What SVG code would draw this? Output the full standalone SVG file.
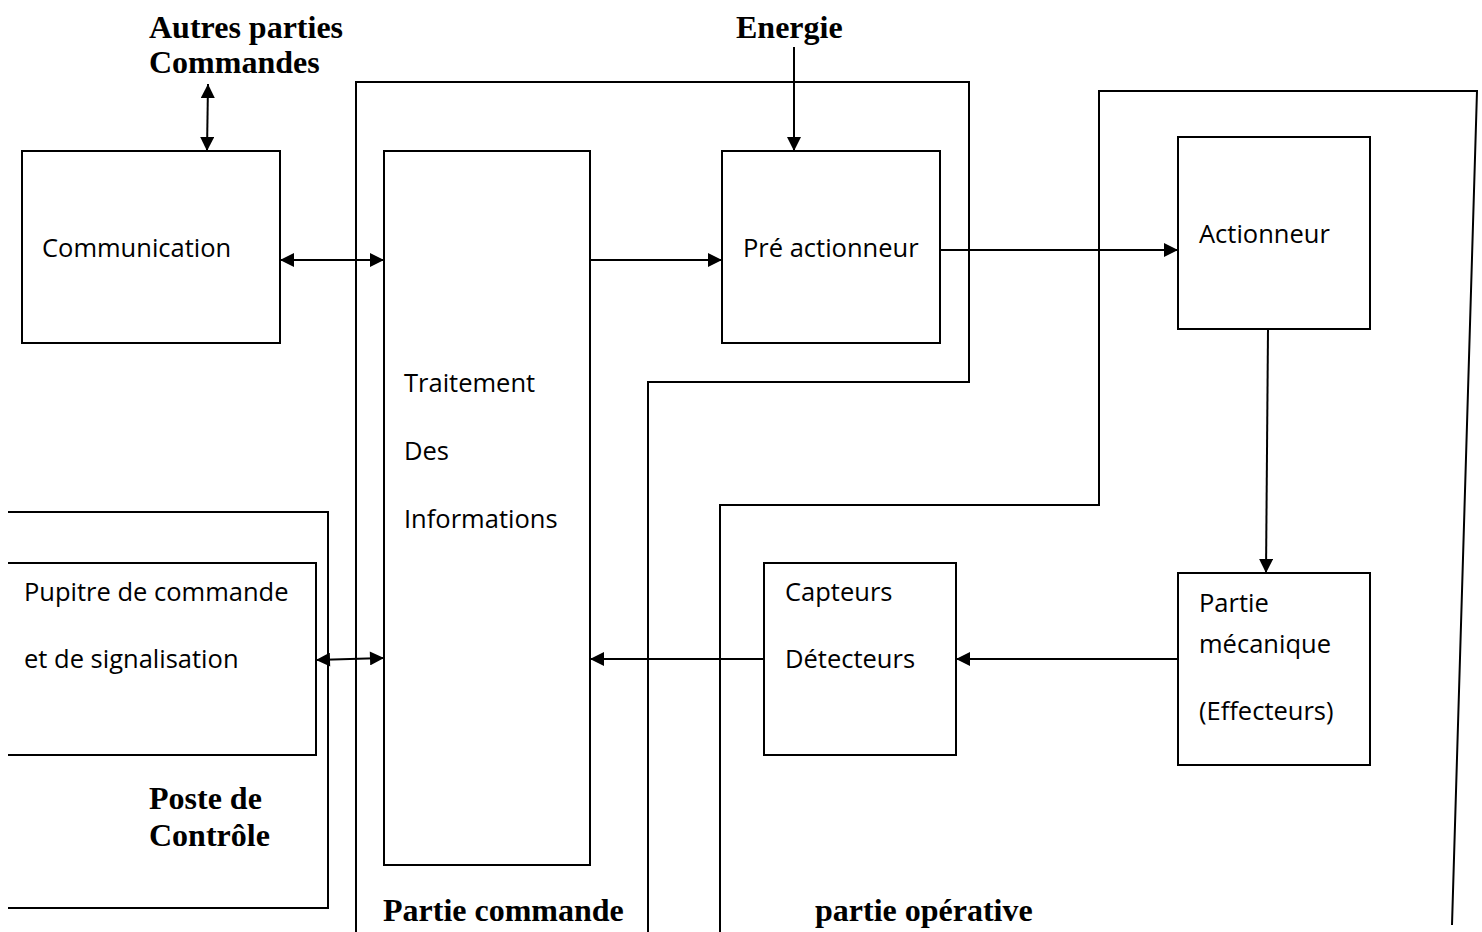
<svg xmlns="http://www.w3.org/2000/svg" width="1482" height="932" viewBox="0 0 1482 932">
  <defs>
    <marker id="ah" viewBox="0 0 10 10" refX="10" refY="5" markerWidth="15" markerHeight="14" markerUnits="userSpaceOnUse" orient="auto-start-reverse">
      <path d="M0,0 L10,5 L0,10 z" fill="#000"/>
    </marker>
    <style>
      .box { fill: #fff; stroke: #000; stroke-width: 2; }
      .zone { fill: none; stroke: #000; stroke-width: 2; }
      .lbl { font-family: "Open Sans", "Liberation Sans", sans-serif; font-size: 25.5px; fill: #000; }
      .title { font-family: "Liberation Serif", serif; font-weight: bold; font-size: 32px; fill: #000; }
      .wire { fill: none; stroke: #000; stroke-width: 2; }
    </style>
  </defs>
  <rect width="1482" height="932" fill="#fff"/>

  <!-- zone outlines -->
  <g id="zones">
    <polyline class="zone" points="8,512 328,512 328,908 8,908"/>
    <polyline class="zone" points="356,932 356,82 969,82 969,382 648,382 648,932"/>
    <polyline class="zone" points="720,932 720,505 1099,505 1099,91 1477,91 1452,925"/>
  </g>

  <!-- zone titles -->
  <g id="titles">
    <text class="title" x="149" y="38">Autres parties</text>
    <text class="title" x="149" y="73">Commandes</text>
    <text class="title" x="736" y="38">Energie</text>
    <text class="title" x="149" y="809">Poste de</text>
    <text class="title" x="149" y="846">Contrôle</text>
    <text class="title" x="383" y="921">Partie commande</text>
    <text class="title" x="815" y="921">partie opérative</text>
  </g>

  <g id="communication">
    <rect class="box" x="22" y="151" width="258" height="192"/>
    <text class="lbl" x="42" y="257">Communication</text>
  </g>

  <g id="traitement">
    <rect class="box" x="384" y="151" width="206" height="714"/>
    <text class="lbl" x="404" y="392">Traitement</text>
    <text class="lbl" x="404" y="460">Des</text>
    <text class="lbl" x="404" y="528">Informations</text>
  </g>

  <g id="pre-actionneur">
    <rect class="box" x="722" y="151" width="218" height="192"/>
    <text class="lbl" x="743" y="257">Pré actionneur</text>
  </g>

  <g id="actionneur">
    <rect class="box" x="1178" y="137" width="192" height="192"/>
    <text class="lbl" x="1199" y="243">Actionneur</text>
  </g>

  <g id="partie-mecanique">
    <rect class="box" x="1178" y="573" width="192" height="192"/>
    <text class="lbl" x="1199" y="612">Partie</text>
    <text class="lbl" x="1199" y="653">mécanique</text>
    <text class="lbl" x="1199" y="720">(Effecteurs)</text>
  </g>

  <g id="capteurs">
    <rect class="box" x="764" y="563" width="192" height="192"/>
    <text class="lbl" x="785" y="601">Capteurs</text>
    <text class="lbl" x="785" y="668">Détecteurs</text>
  </g>

  <g id="pupitre">
    <polyline class="box" points="8,563 316,563 316,755 8,755"/>
    <text class="lbl" x="24" y="601">Pupitre de commande</text>
    <text class="lbl" x="24" y="668">et de signalisation</text>
  </g>

  <!-- connectors -->
  <g id="connectors">
    <line class="wire" x1="208" y1="84" x2="207" y2="151" marker-start="url(#ah)" marker-end="url(#ah)"/>
    <line class="wire" x1="794" y1="47" x2="794" y2="151" marker-end="url(#ah)"/>
    <line class="wire" x1="280" y1="260" x2="384" y2="260" marker-start="url(#ah)" marker-end="url(#ah)"/>
    <line class="wire" x1="590" y1="260" x2="722" y2="260" marker-end="url(#ah)"/>
    <line class="wire" x1="940" y1="250" x2="1178" y2="250" marker-end="url(#ah)"/>
    <line class="wire" x1="1268" y1="329" x2="1266" y2="573" marker-end="url(#ah)"/>
    <line class="wire" x1="1178" y1="659" x2="956" y2="659" marker-end="url(#ah)"/>
    <line class="wire" x1="764" y1="659" x2="590" y2="659" marker-end="url(#ah)"/>
    <line class="wire" x1="316" y1="660" x2="384" y2="658" marker-start="url(#ah)" marker-end="url(#ah)"/>
  </g>
</svg>
